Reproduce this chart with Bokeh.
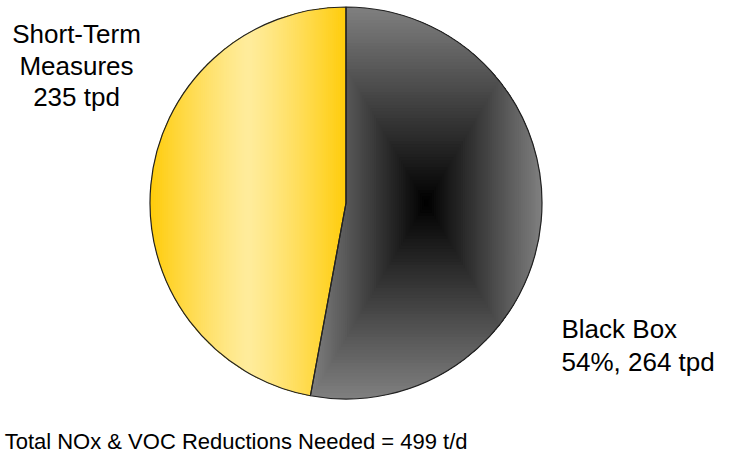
import numpy as np
from bokeh.plotting import figure
from bokeh.models import Range1d
from bokeh.embed import file_html
from bokeh.resources import INLINE
from bokeh.core.properties import value

# ---------------- data ----------------
categories = ["Black Box", "Short-Term Measures"]
values_tpd = [264, 235]
label_lines = [["Black Box", "54%, 264 tpd"], ["Short-Term", "Measures", "235 tpd"]]
title_text = "Total NOx & VOC Reductions Needed = 499 t/d"

# ---------------- layout / style ----------------
REF_H = 469
FIG_W, FIG_H = 715, 453
CX, CY = 345.5, REF_H - 202.5
R = 196.0
FONT = "Liberation Sans"
BASE_FIX = 0.385  # compensation (in em) for the svg baseline placement

def rgb_lerp(c0, c1, t):
    t = min(max(t, 0.0), 1.0)
    return "#%02x%02x%02x" % tuple(int(round(a + (b - a) * t)) for a, b in zip(c0, c1))

p = figure(width=FIG_W, height=FIG_H, x_range=Range1d(0, FIG_W),
           y_range=Range1d(REF_H - FIG_H, REF_H),
           output_backend="svg", toolbar_location=None, min_border=0,
           x_axis_location=None, y_axis_location=None)
p.grid.visible = False
p.outline_line_color = None
p.background_fill_color = "white"
p.border_fill_color = "white"

# angles from the values (start at 12 o'clock, clockwise)
vals = np.array(values_tpd, dtype=float)
fr = vals / vals.sum()
starts = np.pi / 2 - 2 * np.pi * np.concatenate([[0], np.cumsum(fr)[:-1]])
ends = starts - 2 * np.pi * fr

def wedge_poly(a0, a1, n=360):
    t = np.linspace(a0, a1, n)
    xs = np.concatenate([[CX], CX + R * np.cos(t)])
    ys = np.concatenate([[CY], CY + R * np.sin(t)])
    return list(zip(xs, ys))

def clip_poly(pts, xmin, xmax, ymin, ymax):
    def clip_edge(pts, inside, inter):
        out = []
        for i in range(len(pts)):
            cur, prev = pts[i], pts[i - 1]
            if inside(cur):
                if not inside(prev):
                    out.append(inter(prev, cur))
                out.append(cur)
            elif inside(prev):
                out.append(inter(prev, cur))
        return out
    def ix(a, b, xv):
        t = (xv - a[0]) / (b[0] - a[0]); return (xv, a[1] + t * (b[1] - a[1]))
    def iy(a, b, yv):
        t = (yv - a[1]) / (b[1] - a[1]); return (a[0] + t * (b[0] - a[0]), yv)
    for inside, inter in [
        (lambda q: q[0] >= xmin, lambda a, b: ix(a, b, xmin)),
        (lambda q: q[0] <= xmax, lambda a, b: ix(a, b, xmax)),
        (lambda q: q[1] >= ymin, lambda a, b: iy(a, b, ymin)),
        (lambda q: q[1] <= ymax, lambda a, b: iy(a, b, ymax)),
    ]:
        if not pts:
            return pts
        pts = clip_edge(pts, inside, inter)
    return pts

gx, gy, gc = [], [], []

# Black Box: rectangular gradient, black centre -> grey edges
poly = wedge_poly(starts[0], ends[0])
arr = np.array(poly)
x0, x1 = arr[:, 0].min(), arr[:, 0].max()
y0, y1 = arr[:, 1].min(), arr[:, 1].max()
mx, my, hw, hh = (x0 + x1) / 2, (y0 + y1) / 2, (x1 - x0) / 2, (y1 - y0) / 2
N = 60
for k in range(N):
    s = 1.0 - k / N
    sc = 1.02 if k == 0 else s
    c = clip_poly(poly, mx - hw * sc, mx + hw * sc, my - hh * sc, my + hh * sc)
    if len(c) >= 3:
        gx.append([q[0] for q in c]); gy.append([q[1] for q in c])
        gc.append(rgb_lerp((0, 0, 0), (128, 128, 128), s - 0.5 / N))

# Short-Term: horizontal gradient, light centre band -> gold edges
poly = wedge_poly(starts[1], ends[1])
arr = np.array(poly)
x0, x1 = arr[:, 0].min(), arr[:, 0].max()
y0, y1 = arr[:, 1].min(), arr[:, 1].max()
mx, hw = (x0 + x1) / 2, (x1 - x0) / 2
N = 50
for k in range(N):
    s = 1.0 - k / N
    sc = 1.02 if k == 0 else s
    c = clip_poly(poly, mx - hw * sc, mx + hw * sc, y0 - 5, y1 + 5)
    if len(c) >= 3:
        gx.append([q[0] for q in c]); gy.append([q[1] for q in c])
        gc.append(rgb_lerp((255, 236, 156), (255, 204, 10), (s - 0.5 / N) ** 1.2))

p.patches(gx, gy, fill_color=gc, line_color=None)

# outlines of the slices
p.wedge(x=[CX] * len(vals), y=[CY] * len(vals), radius=R,
        start_angle=list(starts), end_angle=list(ends), direction="clock",
        fill_alpha=0, line_color="#222222", line_width=1.2)

# labels (anchor = left/center x, first baseline y in reference pixels)
LAB_SIZE = 26
lab_x, lab_y, lab_t, lab_align = [], [], [], []
anchors = [(561, 339, 33.0, "left"), (76, 44, 31.5, "center")]
for lines, (ax, ay, dy, al) in zip(label_lines, anchors):
    for i, ln in enumerate(lines):
        lab_x.append(ax)
        lab_y.append(REF_H - (ay + i * dy) + BASE_FIX * LAB_SIZE)
        lab_t.append(ln); lab_align.append(al)
for al in ("left", "center"):
    idx = [i for i, a in enumerate(lab_align) if a == al]
    p.text(x=[lab_x[i] for i in idx], y=[lab_y[i] for i in idx], text=[lab_t[i] for i in idx],
           text_font=value(FONT), text_font_size=f"{LAB_SIZE}px", text_color="black",
           text_align=al, text_baseline="alphabetic")

TITLE_SIZE = 22
p.text(x=[467], y=[REF_H - 449 + BASE_FIX * TITLE_SIZE], text=[title_text],
       text_font=value(FONT), text_font_size=f"{TITLE_SIZE}px", text_color="black",
       text_align="right", text_baseline="alphabetic")

open("out.html", "w").write(file_html(p, INLINE))
